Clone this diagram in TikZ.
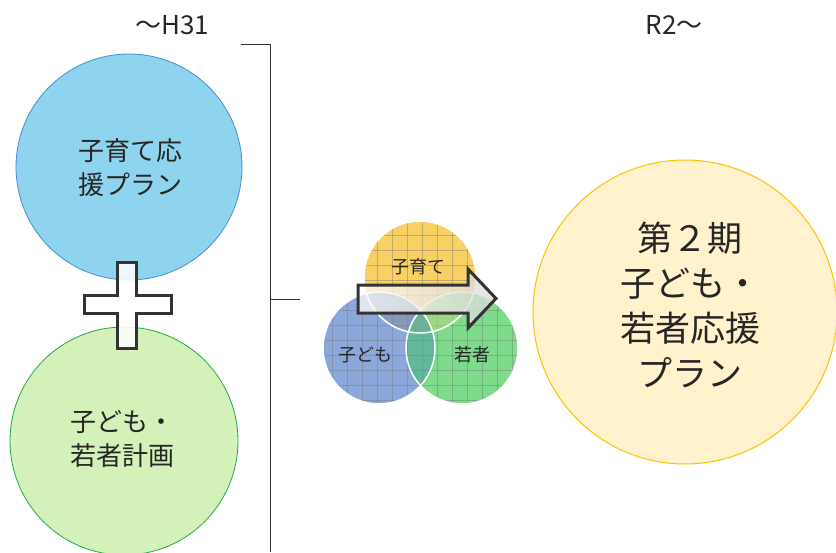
\documentclass[tikz,border=0pt]{standalone}
\usepackage{fontspec}
\setmainfont{Noto Sans CJK JP}
\definecolor{bluefill}{HTML}{8FD4EE}
\definecolor{bluedraw}{HTML}{4A8FCB}
\definecolor{greenfill}{HTML}{D5F1BA}
\definecolor{greendraw}{HTML}{1FAA46}
\definecolor{yelfill}{HTML}{FFF2CC}
\definecolor{yeldraw}{HTML}{FFC000}
\definecolor{vy}{HTML}{F8D064}
\definecolor{vb}{HTML}{8CA8DA}
\definecolor{vg}{HTML}{7EDB8C}
\definecolor{vteal}{HTML}{4FA3A3}
\definecolor{dark}{HTML}{333333}
\tikzset{
  bigc/.style={circle, minimum size=#1, inner sep=0pt, line width=0.8pt, align=center},
  lbl/.style={font=\fontsize{26}{34}\selectfont, align=center, text=black!85},
  era/.style={font=\fontsize{26}{28}\selectfont, text=black!85},
  vtxt/.style={font=\fontsize{18}{20}\selectfont, text=black!85},
  brk/.style={line width=0.9pt, black!80},
  thickout/.style={line width=3pt, draw=dark, line join=miter},
}
\begin{document}
\begin{tikzpicture}[x=1pt,y=-1pt]
\useasboundingbox (0,0) rectangle (836,552);
\begin{scope}
\clip (0,0) rectangle (836,552);
% left circles
\node[bigc=226pt, fill=bluefill, draw=bluedraw] (blue) at (129,167) {};
\node[lbl] (bluet) at (130,168) {子育て応\\援プラン};
\node[bigc=228pt, fill=greenfill, draw=greendraw] (green) at (124,441) {};
\node[lbl] (greent) at (122,439) {子ども・\\若者計画};
\end{scope}
% plus
\draw[thickout, fill=white, fill opacity=0.85]
  (117,262) -- (136,262) -- (136,295) -- (171,295) -- (171,313) -- (136,313)
  -- (136,348) -- (117,348) -- (117,313) -- (84,313) -- (84,295) -- (117,295) -- cycle;
% labels
\node[era] (h31) at (172,25) {〜H31};
\node[era] (r2) at (674,25) {R2〜};
% bracket
\coordinate (b1) at (241,44);
\coordinate (b2) at (270,44);
\coordinate (b3) at (270,552);
\coordinate (b4) at (270,299);
\coordinate (b5) at (300,299);
\draw[brk] (b1) -- (b2) -- (b3);
\draw[brk] (b4) -- (b5);
% venn
\coordinate (cy) at (420,277);
\coordinate (cb) at (379,348);
\coordinate (cg) at (462,348);
\foreach \c/\col in {cy/vy, cb/vb, cg/vg}{
  \begin{scope}
    \clip (\c) circle (56);
    \fill[\col] (\c) circle (56);
    \foreach \k in {0,...,16}{
      \draw[black!55, line width=0.6pt, opacity=0.4] (302+15*\k,200) -- (302+15*\k,420);
      \draw[black!55, line width=0.6pt, opacity=0.4] (300,205+15*\k) -- (540,205+15*\k);
    }
  \end{scope}
}
\begin{scope}
  \clip (cb) circle (56);
  \fill[gray!70!vb, opacity=0.5] (cy) circle (56);
\end{scope}
\begin{scope}
  \clip (cg) circle (56);
  \fill[vy!40!vg, opacity=0.6] (cy) circle (56);
  \fill[vteal, opacity=0.6] (cb) circle (56);
\end{scope}
\draw[white, line width=1.5pt] (cy) circle (56);
\draw[white, line width=1.5pt] (cb) circle (56);
\draw[white, line width=1.5pt] (cg) circle (56);
\node[vtxt] (vyt) at (418,267) {子育て};
\node[vtxt] (vbt) at (365,355) {子ども};
\node[vtxt] (vgt) at (472,355) {若者};
% arrow
\draw[thickout, left color=white, right color=white!85!black, fill opacity=0.75]
  (358,285) -- (468,285) -- (468,269) -- (496,298.5) -- (468,328) -- (468,313)
  -- (358,313) -- cycle;
% right big circle
\node[bigc=304pt, fill=yelfill, draw=yeldraw, line width=1pt] (yel) at (685,312) {};
\node[font=\fontsize{35}{45}\selectfont, align=center, text=black!85] (yelt) at (690,305) {第２期\\子ども・\\若者応援\\プラン};
\end{tikzpicture}
\end{document}
